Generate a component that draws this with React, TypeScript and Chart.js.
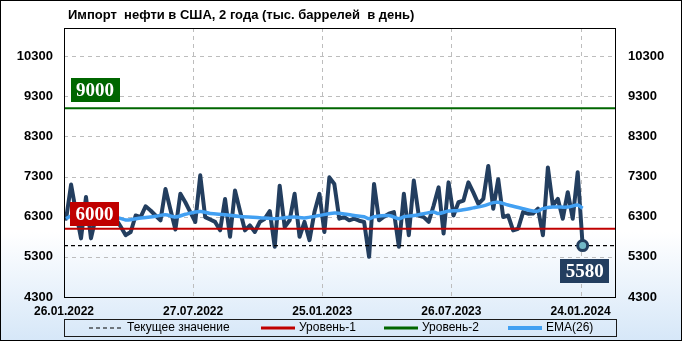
import React, { useEffect, useRef } from 'react';
import { Chart, registerables } from 'chart.js';

Chart.register(...registerables);

const TITLE = 'Импорт  нефти в США, 2 года (тыс. баррелей  в день)';
const tickDates = ['26.01.2022', '27.07.2022', '25.01.2023', '26.07.2023', '24.01.2024'];
const tickDays = [0, 182, 364, 546, 728];
const yTicks = [4300, 5300, 6300, 7300, 8300, 9300, 10300];
const yMin = 4300;
const yMax = 11000;
const xMax = 778;
const firstDataDay = 3;
const weekStep = 7;

const imports = [
  6250, 7100, 6400, 5760, 6790, 5760, 6300, 6480, 6220, 6450,
  6250, 6050, 5840, 5920, 6330, 6290, 6560, 6455, 6330, 6210,
  6990, 6480, 5980, 6870, 6660, 6415, 6170, 7330, 6290, 6230,
  6170, 5960, 6740, 5800, 6950, 6450, 5960, 6085, 5920, 6170,
  6250, 6440, 5550, 7070, 6045, 6210, 6870, 5800, 6170, 5715,
  6415, 6870, 5920, 7280, 7115, 6250, 6290, 6210, 6250, 6200,
  6170, 5300, 7115, 6210, 6300, 6375, 6415, 5550, 6870, 5840,
  7200, 6330, 6290, 6170, 6580, 7030, 5880, 7155, 6330, 6660,
  6700, 7155, 6900, 6620, 6745, 7565, 6500, 7235, 6290, 6330,
  5960, 6000, 6415, 6375, 6380, 6500, 5840, 7525, 6580, 6745,
  6250, 6910, 6250, 7410, 5580,
];

const emaWeeks = [
  0, 1, 3, 5, 7, 9, 10, 12, 13, 15, 18, 20, 22, 24, 27, 29, 32, 35, 39, 42,
  44, 46, 48, 51, 54, 56, 58, 60, 61, 62, 65, 67, 68, 70, 72, 74, 75, 77, 79, 82,
  84, 86, 87, 89, 92, 94, 95, 96, 98, 101, 103, 104,
];
const emaValues = [
  6250, 6320, 6330, 6310, 6320, 6300, 6290, 6220, 6225, 6265, 6310, 6350, 6290, 6360, 6430, 6380, 6350, 6305, 6275, 6250,
  6275, 6290, 6270, 6330, 6390, 6370, 6330, 6300, 6250, 6300, 6330, 6250, 6300, 6330, 6375, 6415, 6380, 6440, 6455, 6520,
  6570, 6650, 6660, 6590, 6500, 6440, 6440, 6500, 6540, 6540, 6590, 6510,
];

const level1 = 6000;
const level2 = 9000;
const currentValue = imports[imports.length - 1];

const legendLabels = ['Текущее значение', 'Уровень-1', 'Уровень-2', 'EMA(26)'];

const NAVY = '#233e5f';
const RED = '#c00000';
const GREEN = '#006600';
const BLUE = '#42a0f2';
const GRID = '#bdbdbd';
const SANS = '"Liberation Sans", Arial, sans-serif';
const SERIF = '"Liberation Serif", "Times New Roman", serif';

const dayOf = (i: number) => firstDataDay + i * weekStep;

function drawTag(ctx: CanvasRenderingContext2D, text: string, cx: number, top: number, bg: string) {
  const w = 49;
  const h = 24;
  ctx.save();
  ctx.fillStyle = bg;
  ctx.fillRect(Math.round(cx - w / 2), Math.round(top), w, h);
  ctx.fillStyle = '#ffffff';
  ctx.font = `bold 19px ${SERIF}`;
  ctx.textAlign = 'center';
  ctx.textBaseline = 'middle';
  ctx.fillText(text, cx, top + h / 2 + 1);
  ctx.restore();
}

const decorPlugin = {
  id: 'decor',
  beforeDraw(chart: any) {
    const { ctx, width, height } = chart;
    ctx.save();
    const g = ctx.createLinearGradient(0, 0, 0, height);
    g.addColorStop(0, '#ffffff');
    g.addColorStop(0.68, '#ffffff');
    g.addColorStop(1, '#d6e7f8');
    ctx.fillStyle = g;
    ctx.fillRect(0, 0, width, height);
    ctx.fillStyle = '#000000';
    ctx.font = `bold 13px ${SANS}`;
    ctx.textAlign = 'left';
    ctx.textBaseline = 'middle';
    ctx.fillText(TITLE, 68, 15);
    ctx.restore();
  },
  beforeDatasetsDraw(chart: any) {
    const { ctx, chartArea, scales } = chart;
    ctx.save();
    ctx.strokeStyle = GRID;
    ctx.lineWidth = 1;
    ctx.setLineDash([4, 4]);
    scales.x.ticks.forEach((t: any) => {
      const px = Math.round(scales.x.getPixelForValue(t.value)) + 0.5;
      ctx.beginPath();
      ctx.moveTo(px, chartArea.top);
      ctx.lineTo(px, chartArea.bottom);
      ctx.stroke();
    });
    scales.y.ticks.forEach((t: any) => {
      const py = Math.round(scales.y.getPixelForValue(t.value)) + 0.5;
      ctx.beginPath();
      ctx.moveTo(chartArea.left, py);
      ctx.lineTo(chartArea.right, py);
      ctx.stroke();
    });
    ctx.restore();
  },
  afterDatasetsDraw(chart: any) {
    const { ctx, scales } = chart;
    const ys = scales.y;
    const xs = scales.x;
    drawTag(ctx, String(level2), 95, ys.getPixelForValue(level2) - 30, GREEN);
    drawTag(ctx, String(level1), 94.5, ys.getPixelForValue(level1) - 27, RED);
    const lx = xs.getPixelForValue(dayOf(imports.length - 1));
    const ly = ys.getPixelForValue(currentValue);
    drawTag(ctx, String(currentValue), lx + 2, ly + 13, NAVY);
  },
  afterDraw(chart: any) {
    const { ctx, chartArea, width, height } = chart;
    ctx.save();
    ctx.strokeStyle = '#000000';
    ctx.lineWidth = 1;
    ctx.strokeRect(chartArea.left + 0.5, chartArea.top + 0.5, chartArea.right - chartArea.left - 1, chartArea.bottom - chartArea.top);
    ctx.strokeRect(0.5, 0.5, width - 1, height - 1);

    const lx0 = chartArea.left;
    const lx1 = chartArea.right;
    const top = 319;
    const bottom = 336;
    ctx.strokeStyle = '#1a1a1a';
    ctx.strokeRect(lx0 + 0.5, top + 0.5, lx1 - lx0, bottom - top);
    const cy = (top + bottom) / 2 + 0.5;
    const items = [
      { x: 89, color: '#000000', dash: [4, 3], lw: 1.2 },
      { x: 261, color: RED, dash: [], lw: 3 },
      { x: 384, color: GREEN, dash: [], lw: 3 },
      { x: 508, color: BLUE, dash: [], lw: 4 },
    ];
    ctx.font = `12px ${SANS}`;
    ctx.textBaseline = 'middle';
    ctx.textAlign = 'left';
    items.forEach((it, i) => {
      ctx.beginPath();
      ctx.setLineDash(it.dash);
      ctx.strokeStyle = it.color;
      ctx.lineWidth = it.lw;
      ctx.moveTo(it.x, cy);
      ctx.lineTo(it.x + 34, cy);
      ctx.stroke();
      ctx.setLineDash([]);
      ctx.fillStyle = '#000000';
      ctx.fillText(legendLabels[i], it.x + 38, cy);
    });
    ctx.restore();
  },
};

export default function App() {
  const ref = useRef<HTMLCanvasElement | null>(null);

  useEffect(() => {
    document.body.style.margin = '0';
    document.body.style.overflow = 'hidden';
    const canvas = ref.current;
    if (!canvas) return;

    const mainData = imports.map((v, i) => ({ x: dayOf(i), y: v }));
    const emaData = emaWeeks.map((w, i) => ({ x: dayOf(w), y: emaValues[i] }));
    const full = (v: number) => [{ x: 0, y: v }, { x: xMax, y: v }];
    const plainTick = (v: any) => String(v);

    const chart = new Chart(canvas, {
      type: 'line',
      data: {
        datasets: [
          {
            label: 'last',
            data: [mainData[mainData.length - 1]],
            showLine: false,
            pointRadius: 5,
            pointBorderWidth: 3,
            pointBackgroundColor: '#72b9c8',
            pointBorderColor: NAVY,
            order: 0,
          },
          {
            label: legendLabels[2],
            data: full(level2),
            borderColor: GREEN,
            borderWidth: 2,
            pointRadius: 0,
            order: 1,
          },
          {
            label: legendLabels[1],
            data: full(level1),
            borderColor: RED,
            borderWidth: 2,
            pointRadius: 0,
            order: 2,
          },
          {
            label: legendLabels[0],
            data: full(currentValue),
            borderColor: '#000000',
            borderWidth: 1.3,
            borderDash: [4, 3],
            pointRadius: 0,
            order: 3,
          },
          {
            label: legendLabels[3],
            data: emaData,
            borderColor: BLUE,
            borderWidth: 3.5,
            pointRadius: 0,
            tension: 0.3,
            borderJoinStyle: 'round',
            order: 4,
          },
          {
            label: 'Импорт',
            data: mainData,
            borderColor: NAVY,
            borderWidth: 4,
            pointRadius: 0,
            tension: 0,
            borderJoinStyle: 'round',
            borderCapStyle: 'round',
            order: 5,
          },
        ],
      },
      options: {
        responsive: false,
        animation: false,
        devicePixelRatio: 1,
        layout: { padding: { top: 28, left: 0, right: 0, bottom: 0 } },
        plugins: {
          legend: { display: false },
          title: { display: false },
          tooltip: { enabled: false },
        },
        scales: {
          x: {
            type: 'linear',
            min: 0,
            max: xMax,
            afterFit: (s: any) => { s.height = 44; },
            afterBuildTicks: (s: any) => { s.ticks = tickDays.map((v) => ({ value: v })); },
            ticks: {
              autoSkip: false,
              maxRotation: 0,
              padding: 7,
              color: '#000000',
              font: { family: SANS, size: 12, weight: 'bold' },
              callback: (v: any) => {
                const idx = tickDays.indexOf(Number(v));
                return idx >= 0 ? tickDates[idx] : '';
              },
            },
            grid: { display: false, drawTicks: false, tickLength: 0 },
            border: { display: false },
          },
          y: {
            position: 'left',
            min: yMin,
            max: yMax,
            afterFit: (s: any) => { s.width = 64; },
            afterBuildTicks: (s: any) => { s.ticks = yTicks.map((v) => ({ value: v })); },
            ticks: {
              padding: 11,
              color: '#000000',
              font: { family: SANS, size: 13, weight: 'bold' },
              callback: plainTick,
            },
            grid: { display: false, drawTicks: false, tickLength: 0 },
            border: { display: false },
          },
          y2: {
            position: 'right',
            min: yMin,
            max: yMax,
            afterFit: (s: any) => { s.width = 66; },
            afterBuildTicks: (s: any) => { s.ticks = yTicks.map((v) => ({ value: v })); },
            ticks: {
              padding: 12,
              color: '#000000',
              font: { family: SANS, size: 13, weight: 'bold' },
              callback: plainTick,
            },
            grid: { display: false, drawTicks: false, tickLength: 0 },
            border: { display: false },
          },
        },
      },
      plugins: [decorPlugin],
    } as any);

    return () => chart.destroy();
  }, []);

  return <canvas ref={ref} width={682} height={341} style={{ display: 'block', width: 682, height: 341 }} />;
}
